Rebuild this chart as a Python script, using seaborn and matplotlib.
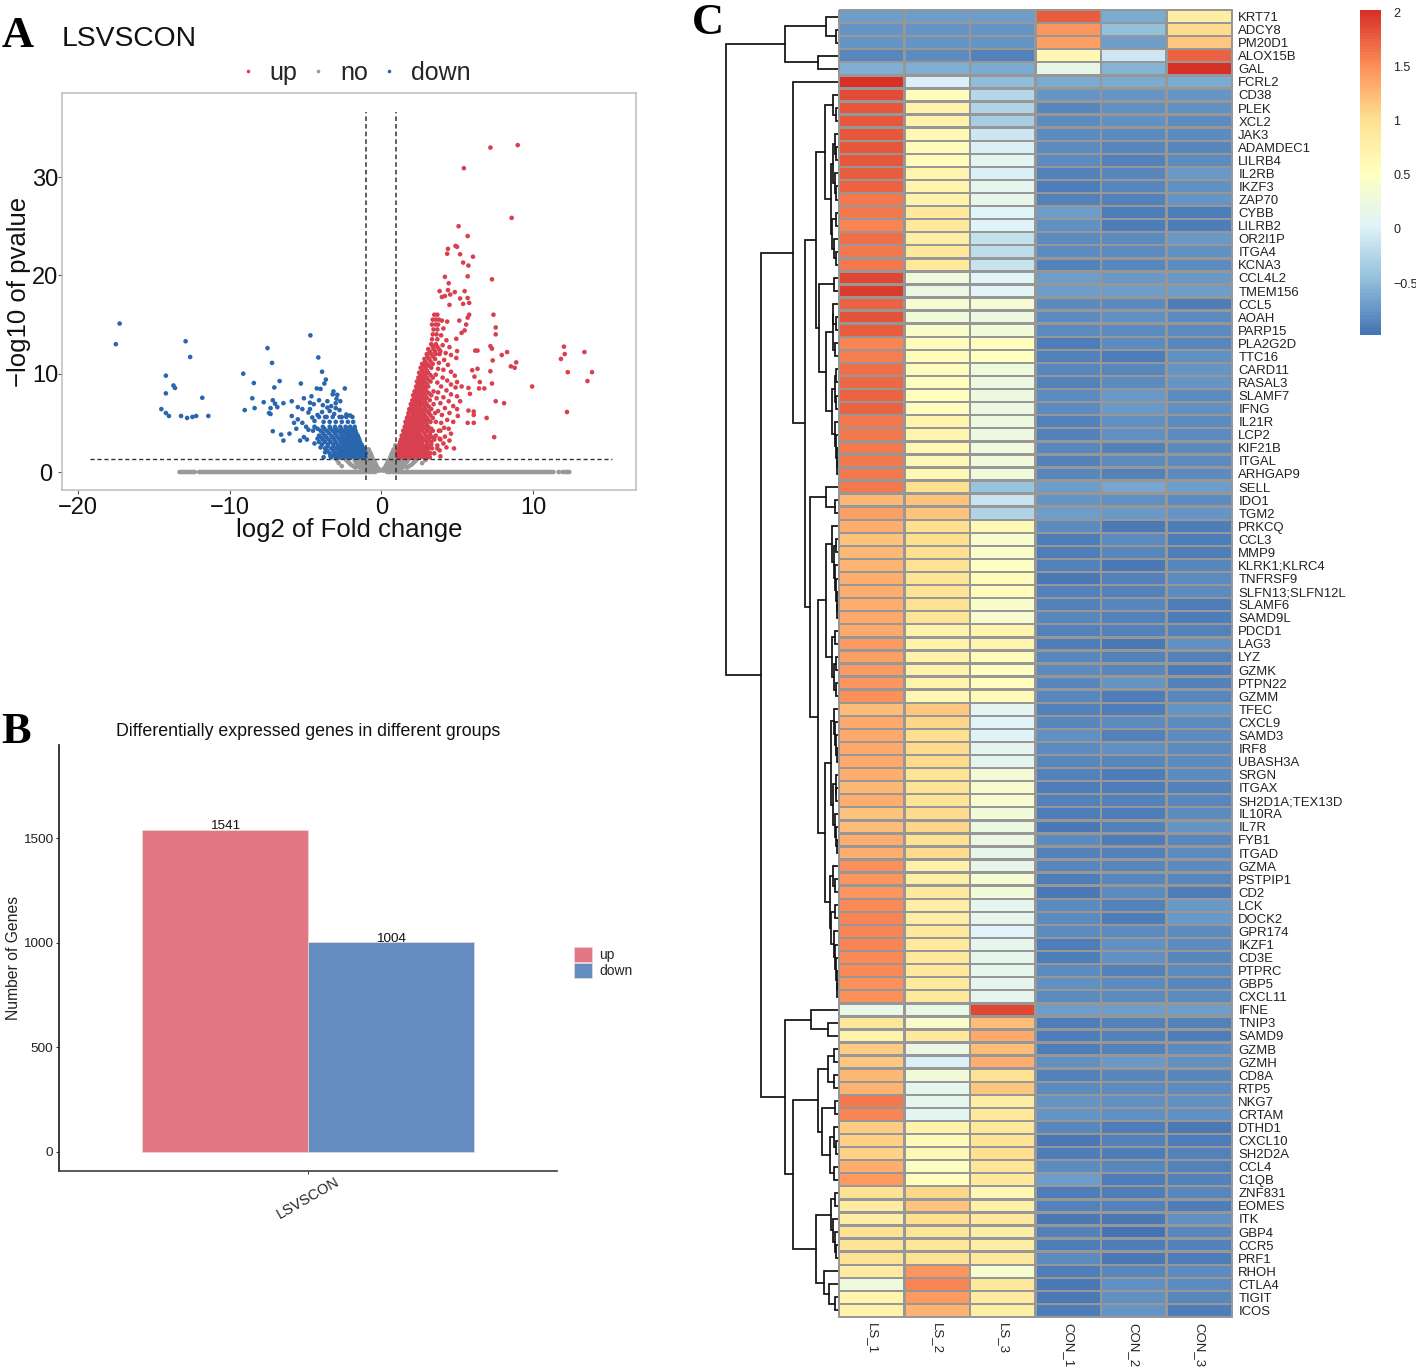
import numpy as np
import pandas as pd
import matplotlib
matplotlib.use("Agg")
import matplotlib.pyplot as plt
import seaborn as sns
from matplotlib.colors import LinearSegmentedColormap
from matplotlib.lines import Line2D

# Panel A: points (log2FC, -log10 p)
up_points = [
    (7.2,33.0),(9.0,33.25),(5.45,30.9),(8.6,25.85),(5.1,25.0),(5.7,24.0),(4.9,23.0),(5.0,22.9),(4.4,22.7),
    (4.35,22.2),(5.2,22.15),(6.05,21.9),(5.4,21.3),(5.75,21.0),(4.2,19.85),(5.7,19.9),(7.3,19.6),(4.45,19.2),
    (3.85,18.4),(4.4,18.5),(4.85,18.3),(5.5,18.4),(4.0,17.8),(4.2,17.9),(4.55,18.05),(5.2,17.65),(5.7,17.7),
    (4.5,17.0),(5.8,17.2),(5.4,17.1),(7.4,16.0),(5.8,16.0),(5.7,15.7),(5.15,15.4),(5.6,15.0),(7.55,14.7),
    (7.55,14.0),(5.5,14.4),(5.3,14.15),(4.95,13.55),(7.2,12.8),(7.3,12.55),(6.2,12.35),(6.35,12.35),(5.0,12.3),
    (8.3,12.2),(7.95,11.9),(7.35,11.35),(8.9,11.15),(8.55,10.75),(8.8,10.6),(12.05,12.75),(12.1,12.0),(11.85,11.5),
    (13.4,12.2),(12.3,10.15),(13.9,10.15),(13.6,9.25),(12.25,6.1),(9.95,8.7),(6.0,10.35),(6.35,10.5),(7.2,10.25),
    (6.15,9.7),(6.5,9.15),(7.3,9.0),(5.75,8.55),(6.45,8.5),(6.8,8.5),(5.85,7.95),(7.55,7.2),(8.1,7.0),(5.75,6.25),
    (6.1,6.15),(6.1,5.8),(6.95,5.5),(5.7,5.0),(6.1,5.0),(7.45,3.55),(4.8,2.4),
    (4.0,15.4),(4.35,15.3),(4.1,14.6),(3.95,13.9),(4.3,13.4),(4.05,12.9),(4.5,12.7),(3.9,12.3),(4.25,12.1),
    (4.6,11.9),(4.95,11.6),(4.15,11.4),(3.8,11.1),(4.4,10.9),(3.75,10.5),(4.1,10.4),(4.6,10.2),(3.6,9.9),(4.85,9.8),
    (4.05,9.6),(4.35,9.3),(3.7,9.1),(5.0,9.15),(4.6,8.9),(4.9,8.6),(3.95,8.7),(4.3,8.3),(3.75,8.1),(5.3,8.7),
    (4.6,7.9),(4.1,7.6),(3.65,7.5),(5.0,7.7),(4.45,7.2),(3.9,7.0),(5.2,7.2),(4.75,6.7),(4.2,6.5),(3.75,6.2),
    (5.0,6.4),(4.5,6.0),(4.0,5.8),(5.05,5.7),(4.35,5.3),(4.75,5.1),(3.95,5.0),(4.15,4.5),(3.9,4.2),(4.45,4.4),
    (4.6,3.9),(4.2,3.6),(3.85,3.4),(4.5,3.2),(4.1,2.9),(3.7,2.7),(4.3,2.5),(3.85,2.2),(3.5,1.9),(3.9,1.6),
]
up_core = [
    (1.5,[1.1,1.3,1.55,1.8,2.05,2.3,2.55,2.8,3.0,3.2]),
    (1.7,[1.2,1.4,1.65,1.9,2.15,2.4,2.65,2.9,3.1]),
    (1.9,[1.05,1.25,1.5,1.75,2.0,2.25,2.5,2.7,2.95,3.25]),
    (2.15,[1.1,1.3,1.55,1.8,2.05,2.3,2.55,2.8,3.05]),
    (2.4,[1.15,1.4,1.65,1.9,2.15,2.4,2.65,2.9,3.1,3.35,3.7]),
    (2.6,[1.3,1.55,1.8,2.05,2.3,2.55,2.8,3.1]),
    (2.8,[1.2,1.45,1.7,1.95,2.2,2.45,2.7,3.0,3.3]),
    (3.05,[1.25,1.45,1.7,1.95,2.2,2.45,2.7,3.0,3.3]),
    (3.3,[1.3,1.55,1.8,2.05,2.3,2.55,2.85,3.15,3.5,3.9]),
    (3.5,[1.4,1.65,1.9,2.15,2.4,2.7,3.05,3.4]),
    (3.7,[1.35,1.6,1.85,2.1,2.35,2.6,2.95,3.25,3.6]),
    (3.95,[1.5,1.75,2.0,2.25,2.5,2.85,3.2]),
    (4.2,[1.45,1.7,1.95,2.2,2.45,2.7,3.05,3.4,3.8]),
    (4.4,[1.6,1.85,2.1,2.35,2.6,2.95,3.3]),
    (4.6,[1.55,1.8,2.05,2.3,2.55,2.8,3.1]),
    (4.85,[1.65,1.9,2.15,2.4,2.7,3.0]),
    (5.1,[1.6,1.85,2.1,2.35,2.6,2.9,3.25,3.6]),
    (5.3,[1.75,2.0,2.25,2.5,2.8,3.1]),
    (5.5,[1.7,1.95,2.2,2.45,2.7,3.0,3.4]),
    (5.75,[1.8,2.1,2.35,2.6,2.9,3.25]),
    (6.0,[1.8,2.05,2.3,2.55,2.8,3.15,3.55]),
    (6.2,[1.9,2.15,2.45,2.7,3.05]),
    (6.4,[1.85,2.1,2.35,2.6,2.9,3.3]),
    (6.65,[2.0,2.25,2.55,2.85,3.15]),
    (6.9,[1.95,2.2,2.45,2.7,3.0,3.45]),
    (7.1,[2.1,2.35,2.6,2.9]),
    (7.3,[2.05,2.3,2.55,2.85,3.2]),
    (7.55,[2.2,2.45,2.7,3.0]),
    (7.8,[2.1,2.35,2.6,2.9,3.3]),
    (8.0,[2.25,2.5,2.8,3.15]),
    (8.2,[2.2,2.45,2.7,3.0,3.45]),
    (8.45,[2.35,2.6,2.9]),
    (8.7,[2.3,2.55,2.8,3.1]),
    (8.95,[2.45,2.7,3.0]),
    (9.2,[2.35,2.6,2.85,3.25]),
    (9.4,[2.5,2.8,3.1]),
    (9.6,[2.45,2.7,3.0,3.4]),
    (9.85,[2.6,2.9,3.25]),
    (10.1,[2.5,2.8,3.1]),
    (10.35,[2.7,3.0]),
    (10.6,[2.6,2.9,3.3]),
    (10.8,[2.8,3.15]),
    (11.0,[2.7,3.0,3.4]),
    (11.25,[2.9,3.25]),
    (11.5,[2.85,3.15,3.55]),
    (11.75,[3.05,3.4]),
    (12.0,[3.0,3.3,3.6,3.85]),
    (12.25,[3.2,3.55]),
    (12.5,[3.1,3.45,3.8]),
    (12.75,[3.4,3.7]),
    (13.0,[3.3,3.6]),
    (13.5,[3.35,3.7]),
    (14.0,[3.4,3.65]),
    (14.5,[3.45,3.7]),
    (15.0,[3.35,3.6,3.75]),
    (15.5,[3.4,3.6,3.8]),
    (16.0,[3.5,3.7]),
]
down_points = [
    (-17.25,15.1),(-17.5,13.0),(-12.9,13.3),(-12.6,11.7),(-14.2,9.8),(-14.2,8.0),(-13.7,8.8),(-13.6,8.55),
    (-14.5,6.4),(-14.2,6.0),(-14.0,5.7),(-13.2,5.7),(-12.8,5.5),(-12.45,5.6),(-12.2,5.7),(-11.8,7.55),(-11.4,5.7),
    (-9.1,10.0),(-8.4,9.05),(-8.5,7.5),(-9.0,6.3),(-8.35,6.5),(-7.5,12.6),(-7.2,11.1),(-4.67,13.9),(-4.15,11.65),
    (-3.9,10.2),(-6.7,9.25),(-7.05,8.6),(-5.3,9.0),(-3.65,9.4),(-3.75,9.0),(-4.25,8.5),(-4.0,8.45),(-2.4,8.5),
    (-3.15,8.2),(-2.9,7.85),(-7.75,7.1),(-7.15,7.3),(-7.0,6.95),(-7.3,6.5),(-6.85,6.6),(-7.4,6.0),(-7.3,5.9),
    (-6.45,7.0),(-5.9,7.2),(-5.5,6.6),(-5.2,6.4),(-5.1,7.5),(-4.6,7.7),(-4.7,7.05),(-4.7,6.4),(-4.8,6.05),
    (-5.9,5.7),(-5.5,5.35),(-5.2,5.0),(-5.75,5.0),(-7.15,4.15),(-6.6,3.8),(-6.45,3.2),(-6.05,3.9),(-5.35,3.2),
    (-5.1,3.55),(-4.8,4.3),(-4.95,4.6),(-3.2,7.9),(-2.7,7.2),(-3.0,7.0),(-3.3,6.7),(-3.0,6.5),(-3.4,6.2),(-2.75,6.3),
    (-3.9,6.1),(-4.2,5.8),(-3.1,5.9),(-2.3,5.85),(-2.05,5.75),(-2.6,5.6),(-3.7,5.6),(-4.4,5.2),(-4.5,4.2),(-4.2,3.4),
    (-4.4,2.9),(-4.0,2.5),(-3.7,2.0),(-3.35,1.6),(-3.8,1.5),(-4.9,3.3),(-5.6,4.4),(-4.55,5.55),(-3.55,7.2),(-2.95,7.45),
    (-3.55,6.55),(-4.45,6.9),(-4.1,7.3),(-3.85,6.8),
]
down_core = [
    (1.5,[-1.05,-1.25,-1.5,-1.75,-2.0,-2.25,-2.5,-2.75,-3.0,-3.3]),
    (1.7,[-1.1,-1.35,-1.6,-1.85,-2.1,-2.35,-2.6,-2.85,-3.15]),
    (1.9,[-1.02,-1.2,-1.45,-1.7,-1.95,-2.2,-2.45,-2.7,-3.0,-3.4]),
    (2.15,[-1.1,-1.3,-1.55,-1.8,-2.05,-2.3,-2.55,-2.8,-3.15,-3.55]),
    (2.4,[-1.15,-1.4,-1.65,-1.9,-2.15,-2.4,-2.65,-2.95,-3.3,-3.7]),
    (2.6,[-1.25,-1.5,-1.75,-2.0,-2.25,-2.5,-2.8,-3.15,-3.55]),
    (2.8,[-1.3,-1.55,-1.8,-2.05,-2.3,-2.55,-2.85,-3.15,-3.5,-3.9]),
    (3.05,[-1.4,-1.65,-1.9,-2.15,-2.4,-2.65,-3.0,-3.35,-3.7,-4.1]),
    (3.3,[-1.45,-1.7,-1.95,-2.2,-2.45,-2.75,-3.1,-3.45,-3.85]),
    (3.5,[-1.5,-1.75,-2.0,-2.25,-2.55,-2.85,-3.2,-3.6,-3.95]),
    (3.7,[-1.55,-1.8,-2.05,-2.3,-2.6,-2.95,-3.3,-3.7,-4.1]),
    (3.95,[-1.65,-1.9,-2.15,-2.4,-2.7,-3.05,-3.45,-3.85]),
    (4.2,[-1.7,-1.95,-2.2,-2.5,-2.85,-3.2,-3.6,-4.0]),
    (4.4,[-1.75,-2.0,-2.3,-2.65,-3.0,-3.35,-3.75,-4.2]),
    (4.6,[-1.75,-2.05,-2.35,-2.7,-3.05,-3.4,-3.85,-4.4]),
    (5.1,[-1.85,-2.2,-2.6,-3.0,-3.4,-3.8]),
    (5.6,[-1.9,-2.3,-2.75,-3.2,-3.6,-4.1]),
]
no_core = [
    (0.15,[0.1,0.2,0.35,0.55,0.8,1.1,-0.1,-0.2,-0.35,-0.55,-0.8,-1.1]),
    (0.3,[0.15,0.3,0.5,0.75,1.0,1.3,-0.15,-0.3,-0.5,-0.75,-1.0,-1.3]),
    (0.45,[0.25,0.4,0.6,0.85,1.1,1.4,1.7,-0.25,-0.4,-0.6,-0.85,-1.1,-1.4,-1.7]),
    (0.6,[0.3,0.5,0.7,0.95,1.2,1.5,1.85,-0.3,-0.5,-0.7,-0.95,-1.2,-1.5,-1.85,-2.6]),
    (0.75,[0.35,0.55,0.75,1.0,1.25,1.55,2.0,-0.35,-0.55,-0.75,-1.0,-1.25,-1.55,-2.0]),
    (0.9,[0.4,0.6,0.8,1.05,1.3,1.6,2.1,2.7,-0.4,-0.6,-0.8,-1.05,-1.3,-1.6,-2.1,-2.8]),
    (1.05,[0.45,0.65,0.85,1.1,1.35,1.7,2.2,-0.45,-0.65,-0.85,-1.1,-1.35,-1.7,-2.2]),
    (1.2,[0.5,0.7,0.9,1.15,1.4,1.75,2.3,2.9,-0.5,-0.7,-0.9,-1.15,-1.4,-1.75,-2.3,-2.9]),
    (1.5,[0.6,0.8,0.98,-0.6,-0.8,-0.98]),
    (1.7,[0.65,0.85,0.98,-0.65,-0.85,-0.98]),
    (1.9,[0.7,0.88,0.98,-0.7,-0.88,-0.98]),
    (2.1,[0.78,0.92,-0.78,-0.92]),
    (2.3,[0.82,0.95,-0.82,-0.95]),
    (2.7,[0.93]),
]
no_baseline = [
    -13.3,-13.05,-12.8,-12.55,-12.3,-12.0,-11.75,-11.5,-11.25,-11.0,-10.75,-10.5,-10.25,-10.0,-9.75,-9.5,-9.25,
    -9.0,-8.75,-8.5,-8.25,-8.0,-7.75,-7.5,-7.25,-7.0,-6.75,-6.5,-6.25,-6.0,-5.75,-5.5,-5.25,-5.0,-4.75,-4.5,
    -4.25,-4.0,-3.75,-3.5,-3.25,-3.0,-2.75,-2.5,-2.25,-2.0,-1.75,-1.5,-1.25,-1.0,-0.8,-0.6,-0.4,0.4,0.6,0.8,
    1.0,1.25,1.5,1.75,2.0,2.25,2.5,2.75,3.0,3.25,3.5,3.75,4.0,4.25,4.5,4.75,5.0,5.25,5.5,5.75,6.0,6.25,6.5,6.75,
    7.0,7.25,7.5,7.75,8.0,8.25,8.5,8.75,9.0,9.25,9.5,9.75,10.0,10.25,10.5,10.75,11.0,11.2,11.35,11.7,11.95,12.2,12.4,
    -13.18,-12.92,-12.67,-12.42,-11.88,-11.62,-11.37,-11.12,-10.88,-10.62,-10.37,-10.12,-9.88,-9.62,-9.37,-9.12,
    -8.88,-8.62,-8.37,-8.12,-7.88,-7.62,-7.37,-7.12,-6.88,-6.62,-6.37,-6.12,-5.88,-5.62,-5.37,-5.12,-4.88,-4.62,
    -4.37,-4.12,-3.88,-3.62,-3.37,-3.12,-2.88,-2.62,-2.37,-2.12,-1.88,-1.62,-1.37,-1.12,1.12,1.37,1.62,1.88,
    2.12,2.37,2.62,2.88,3.12,3.37,3.62,3.88,4.12,4.37,4.62,4.88,5.12,5.37,5.62,5.88,6.12,6.37,6.62,6.88,
    7.12,7.37,7.62,7.88,8.12,8.37,8.62,8.88,9.12,9.37,9.62,9.88,10.12,10.37,10.62,10.88,11.1,12.08,12.3,
]

# Panel B
groups = ["LSVSCON", "LSVSCON"]
directions = ["up", "down"]
gene_counts = [1541, 1004]

# Panel C
genes = ["KRT71","ADCY8","PM20D1","ALOX15B","GAL","FCRL2","CD38","PLEK","XCL2","JAK3","ADAMDEC1","LILRB4","IL2RB",
         "IKZF3","ZAP70","CYBB","LILRB2","OR2I1P","ITGA4","KCNA3","CCL4L2","TMEM156","CCL5","AOAH","PARP15","PLA2G2D",
         "TTC16","CARD11","RASAL3","SLAMF7","IFNG","IL21R","LCP2","KIF21B","ITGAL","ARHGAP9","SELL","IDO1","TGM2",
         "PRKCQ","CCL3","MMP9","KLRK1;KLRC4","TNFRSF9","SLFN13;SLFN12L","SLAMF6","SAMD9L","PDCD1","LAG3","LYZ","GZMK",
         "PTPN22","GZMM","TFEC","CXCL9","SAMD3","IRF8","UBASH3A","SRGN","ITGAX","SH2D1A;TEX13D","IL10RA","IL7R","FYB1",
         "ITGAD","GZMA","PSTPIP1","CD2","LCK","DOCK2","GPR174","IKZF1","CD3E","PTPRC","GBP5","CXCL11","IFNE","TNIP3",
         "SAMD9","GZMB","GZMH","CD8A","RTP5","NKG7","CRTAM","DTHD1","CXCL10","SH2D2A","CCL4","C1QB","ZNF831","EOMES",
         "ITK","GBP4","CCR5","PRF1","RHOH","CTLA4","TIGIT","ICOS"]
ls_1 = [-0.68,-0.75,-0.75,-0.85,-0.58,2.0,1.85,1.78,1.8,1.8,1.8,1.78,1.75,1.72,1.62,1.62,1.55,1.68,1.62,1.62,
        1.88,1.95,1.72,1.82,1.75,1.55,1.58,1.68,1.7,1.72,1.72,1.62,1.6,1.6,1.6,1.6,1.6,1.25,1.4,1.3,
        1.2,1.25,1.28,1.3,1.32,1.32,1.35,1.35,1.42,1.4,1.42,1.45,1.48,1.22,1.33,1.35,1.35,1.33,1.32,1.25,
        1.3,1.2,1.22,1.3,1.3,1.48,1.45,1.45,1.52,1.55,1.55,1.55,1.52,1.52,1.5,1.5,0.18,0.92,0.72,1.12,
        1.15,1.25,1.28,1.62,1.55,1.12,1.1,1.1,1.32,1.42,0.98,0.82,0.8,0.98,0.95,0.98,0.82,0.25,0.68,0.72]
ls_2 = [-0.68,-0.75,-0.75,-0.83,-0.58,-0.02,0.55,0.72,0.72,0.62,0.55,0.55,0.68,0.68,0.72,0.85,0.9,0.78,0.88,0.88,
        0.25,0.2,0.35,0.3,0.42,0.55,0.55,0.55,0.52,0.52,0.52,0.7,0.68,0.65,0.62,0.62,1.0,1.2,1.18,1.0,
        1.0,1.0,0.98,0.95,0.95,0.98,0.95,0.72,0.72,0.72,0.72,0.72,0.65,1.15,1.08,1.0,1.05,1.05,0.95,0.95,
        0.95,1.05,1.08,0.98,1.05,0.75,0.78,0.85,0.8,0.8,0.9,0.85,0.88,0.85,0.85,0.88,0.18,0.42,0.85,0.2,
        -0.02,0.28,0.1,0.12,0.08,0.72,0.6,0.62,0.48,0.52,1.08,1.18,1.02,0.92,0.92,0.98,1.45,1.55,1.42,1.28]
ls_3 = [-0.68,-0.75,-0.75,-0.88,-0.6,-0.5,-0.25,-0.27,-0.33,-0.1,0,0.08,0,0.12,0.15,0.02,0.02,-0.15,-0.18,-0.12,
        0.05,0.05,0.35,0.22,0.28,0.52,0.5,0.25,0.22,0.22,0.22,0.22,0.22,0.25,0.25,0.25,-0.42,-0.12,-0.28,0.62,
        0.38,0.45,0.48,0.55,0.55,0.42,0.38,0.7,0.7,0.55,0.5,0.52,0.58,0.08,0.02,0.03,0.08,0.08,0.32,0.38,
        0.38,0.3,0.22,0.2,0.15,0.15,0.35,0.28,0.1,0.12,0.02,0.12,0.1,0.12,0.12,0.12,1.88,1.22,1.35,1.22,
        1.32,0.98,1.15,0.8,0.88,0.88,0.95,1.0,0.92,0.85,0.62,0.75,0.85,0.78,0.8,0.9,0.38,0.9,0.82,0.78]
con_1 = [1.75,1.45,1.4,0.65,0.15,-0.6,-0.76,-0.85,-0.8,-0.82,-0.82,-0.8,-0.88,-0.89,-0.87,-0.71,-0.79,-0.82,-0.82,-0.87,
         -0.71,-0.71,-0.82,-0.82,-0.82,-0.89,-0.87,-0.85,-0.87,-0.82,-0.82,-0.88,-0.87,-0.85,-0.88,-0.85,-0.71,-0.76,-0.71,-0.82,
         -0.91,-0.91,-0.88,-0.93,-0.88,-0.87,-0.85,-0.88,-0.89,-0.85,-0.82,-0.85,-0.85,-0.88,-0.85,-0.79,-0.82,-0.85,-0.87,-0.89,
         -0.87,-0.91,-0.93,-0.82,-0.87,-0.85,-0.91,-0.93,-0.82,-0.8,-0.82,-0.91,-0.89,-0.8,-0.79,-0.82,-0.68,-0.89,-0.91,-0.91,
         -0.79,-0.88,-0.82,-0.76,-0.76,-0.85,-0.93,-0.91,-0.82,-0.68,-0.89,-0.88,-0.93,-0.87,-0.89,-0.82,-0.91,-0.93,-0.93,-0.91]
con_2 = [-0.6,-0.45,-0.68,-0.1,-0.55,-0.6,-0.76,-0.79,-0.79,-0.82,-0.85,-0.87,-0.85,-0.85,-0.88,-0.89,-0.89,-0.82,-0.8,-0.85,
         -0.73,-0.71,-0.82,-0.79,-0.82,-0.82,-0.91,-0.85,-0.82,-0.73,-0.73,-0.79,-0.79,-0.88,-0.82,-0.88,-0.64,-0.79,-0.73,-0.93,
         -0.82,-0.85,-0.93,-0.87,-0.87,-0.85,-0.87,-0.87,-0.93,-0.87,-0.85,-0.76,-0.89,-0.91,-0.82,-0.87,-0.79,-0.85,-0.89,-0.89,
         -0.88,-0.89,-0.87,-0.89,-0.87,-0.85,-0.85,-0.82,-0.88,-0.91,-0.82,-0.79,-0.79,-0.87,-0.82,-0.8,-0.68,-0.88,-0.87,-0.87,
         -0.73,-0.85,-0.82,-0.79,-0.79,-0.91,-0.88,-0.91,-0.85,-0.91,-0.89,-0.87,-0.93,-0.97,-0.91,-0.95,-0.85,-0.79,-0.79,-0.76]
con_3 = [0.8,1.05,1.15,1.72,2.0,-0.6,-0.76,-0.79,-0.8,-0.82,-0.85,-0.82,-0.73,-0.79,-0.76,-0.91,-0.91,-0.73,-0.79,-0.82,
         -0.73,-0.68,-0.89,-0.8,-0.82,-0.85,-0.79,-0.76,-0.76,-0.82,-0.79,-0.82,-0.82,-0.82,-0.82,-0.82,-0.68,-0.82,-0.76,-0.91,
         -0.91,-0.89,-0.85,-0.82,-0.82,-0.89,-0.89,-0.88,-0.79,-0.88,-0.89,-0.87,-0.85,-0.76,-0.82,-0.82,-0.82,-0.8,-0.82,-0.87,
         -0.85,-0.82,-0.76,-0.85,-0.82,-0.82,-0.85,-0.89,-0.73,-0.73,-0.82,-0.82,-0.85,-0.82,-0.85,-0.82,-0.68,-0.87,-0.89,-0.82,
         -0.79,-0.85,-0.8,-0.79,-0.79,-0.93,-0.89,-0.88,-0.87,-0.87,-0.85,-0.89,-0.79,-0.85,-0.88,-0.91,-0.82,-0.82,-0.85,-0.91]

# Row dendrogram as nested [height, upper, lower]; L is a leaf
L = None
a1 = [13, [5, L, [2, L, L]],
      [7.5, [5, [3, L, [2, L, L]], [3.5, L, [2, L, L]]], [6, [2.5, L, L], [4, L, [2, L, L]]]]]
a2 = [19, [4, L, L],
      [12, [5.5, [5, L, [2.5, L, L]], [3.5, L, L]],
       [6, [3.5, [2.5, L, L], [2.5, L, L]], [3, L, [2.2, L, [1.8, L, [1.2, L, L]]]]]]]
b1 = [12, L, [3, L, L]]
b2 = [12, [6, L, [4, [2.5, L, L], [3, L, [2, L, [1.5, L, [1.2, L, L]]]]]],
      [6.5, [3.5, L, L], [4, [2.5, L, L], [2.5, L, L]]]]
c1 = [7, [4, L, [3, L, [2.2, L, [1.5, L, L]]]], [5, [2.5, L, [2, L, L]], [3, L, [2, L, [1.5, L, L]]]]]
c2 = [8, [5, L, [3, L, L]], [7, [3.5, L, L], [4.5, L, [3, L, [2.2, L, [1.5, L, [1, L, L]]]]]]]
main_cluster = [45, L, [33, [22, a1, a2], [28, b1, [20, b2, [13, c1, c2]]]]]
d1 = [27, L, [10, L, L]]
d2 = [10, [4, L, L], [4, L, L]]
d3 = [16, [3.5, L, L], [8, [4, L, [2.5, L, L]], [4, L, L]]]
d5 = [7, [3, L, L], [5, L, [3.5, L, [2, L, L]]]]
d6 = [14, L, [9, L, [3, L, L]]]
low_cluster = [53, d1, [45, [20, d2, d3], [22, d5, d6]]]
top_cluster = [54, [12, L, [2.5, L, L]], [20, L, L]]
row_tree = [113, top_cluster, [78, main_cluster, low_cluster]]

W, H = 1416, 1368
sns.set_theme(style="white")
plt.rcParams["font.family"] = ["Liberation Sans", "DejaVu Sans"]
plt.rcParams["axes.unicode_minus"] = True


def px_axes(fig, left, top, right, bottom):
    return fig.add_axes([left / W, 1 - bottom / H, (right - left) / W, (bottom - top) / H])


fig = plt.figure(figsize=(W / 100, H / 100), dpi=100, facecolor="white")

# ---- A: volcano
rows = [("no", x, 0.0) for x in no_baseline]
rows += [("no", x, y) for y, xs in no_core for x in xs]
rows += [("down", x, y) for y, xs in down_core for x in xs]
rows += [("down", x, y) for x, y in down_points]
rows += [("up", x, y) for y, xs in up_core for x in xs]
rows += [("up", x, y) for x, y in up_points]
volcano = pd.DataFrame(rows, columns=["group", "log2fc", "logp"])
volcano_colors = {"up": "#D8404F", "no": "#999999", "down": "#2A66AD"}

ax_a = px_axes(fig, 62, 93, 636, 490)
sns.scatterplot(data=volcano, x="log2fc", y="logp", hue="group", palette=volcano_colors,
                s=11, linewidth=0, legend=False, ax=ax_a)
ax_a.set_xlim(-21.05, 16.8)
ax_a.set_ylim(-1.83, 38.55)
ax_a.vlines([-1, 1], -0.8, 36.6, colors="#333333", linestyles=(0, (3, 2)), linewidth=1.1)
ax_a.hlines(1.3, -19.2, 15.2, colors="#333333", linestyles=(0, (3, 2)), linewidth=1.0)
ax_a.set_xticks([-20, -10, 0, 10])
ax_a.set_yticks([0, 10, 20, 30])
ax_a.tick_params(labelsize=17, length=3, width=0.8, color="#555555", pad=2, labelcolor="#111111", bottom=True, left=True)
ax_a.tick_params(axis="y", pad=9)
plt.setp(ax_a.get_yticklabels(), ha="center")
ax_a.set_xlabel("log2 of Fold change", fontsize=18.5, labelpad=-1, color="#111111")
ax_a.set_ylabel("\u2212log10 of pvalue", fontsize=18.5, labelpad=1, color="#111111")
for spine in ax_a.spines.values():
    spine.set_color("#BDBDBD")
    spine.set_linewidth(1.1)
handles = [Line2D([], [], marker="o", linestyle="", markersize=2.6, markeredgewidth=0, color=volcano_colors[k])
           for k in ["up", "no", "down"]]
fig.legend(handles, ["up", "no", "down"], ncol=3, frameon=False, fontsize=18, loc="center",
           bbox_to_anchor=(353 / W, 1 - 73 / H), handlelength=1.0, handletextpad=0.38, columnspacing=0.34)
fig.text(62 / W, 1 - 39 / H, "LSVSCON", fontsize=20.3, va="center", ha="left", color="#111111")

# ---- B: bars
bars = pd.DataFrame({"group": groups, "direction": directions, "count": gene_counts})
ax_b = px_axes(fig, 59, 745, 557, 1171)
sns.barplot(data=bars, x="group", y="count", hue="direction", palette={"up": "#E27784", "down": "#648CC0"},
            width=0.8, saturation=1, edgecolor="#F3D6DA", linewidth=0.5, ax=ax_b)
ax_b.set_xlim(-0.6, 0.6)
ax_b.set_ylim(-91, 1945)
ax_b.set_yticks([0, 500, 1000, 1500])
ax_b.set_xlabel("")
ax_b.set_ylabel("Number of Genes", fontsize=11.3, labelpad=1, color="#222222")
ax_b.tick_params(axis="y", labelsize=9.7, length=2.5, width=0.7, pad=2, left=True, labelcolor="#222222")
ax_b.tick_params(axis="x", length=2.5, width=0.7, pad=0, bottom=True)
plt.setp(ax_b.get_xticklabels(), rotation=30, ha="center", fontsize=10.5, color="#222222")
ax_b.spines["top"].set_visible(False)
ax_b.spines["right"].set_visible(False)
ax_b.spines["left"].set_color("#222222")
ax_b.spines["bottom"].set_color("#444444")
for container in ax_b.containers:
    ax_b.bar_label(container, fontsize=9.7, padding=-2, color="#111111")
ax_b.legend(title=None, frameon=False, fontsize=10, loc="center left", bbox_to_anchor=(1.035, 0.49),
            handlelength=1.25, handleheight=1.3, labelspacing=0.05, handletextpad=0.55, borderpad=0, borderaxespad=0)
fig.text(308 / W, 1 - 731 / H, "Differentially expressed genes in different groups", fontsize=12.8,
         ha="center", va="center", color="#111111")

# ---- C: heatmap with row dendrogram
matrix = pd.DataFrame({"LS_1": ls_1, "LS_2": ls_2, "LS_3": ls_3, "CON_1": con_1, "CON_2": con_2, "CON_3": con_3},
                      index=genes)
rdylbu = LinearSegmentedColormap.from_list(
    "rdylbu", ["#4575B4", "#91BFDB", "#E0F3F8", "#FFFFBF", "#FEE090", "#FC8D59", "#D73027"], N=100)

ax_c = px_axes(fig, 839, 10, 1232, 1317)
cax = px_axes(fig, 1360, 10, 1381, 335)
sns.heatmap(matrix, cmap=rdylbu, vmin=-0.98, vmax=2.02, linewidths=1.0, linecolor="#979797", ax=ax_c, cbar_ax=cax,
            yticklabels=True)
mesh = ax_c.collections[0]
mesh.set_clip_on(False)
mesh.set_snap(False)
mesh.set_antialiased(True)
ax_c.yaxis.tick_right()
ax_c.tick_params(axis="y", length=0, pad=4.5, labelsize=9.45, labelcolor="#222222")
ax_c.tick_params(axis="x", length=0, pad=4, labelsize=9.5, labelcolor="#222222")
plt.setp(ax_c.get_yticklabels(), rotation=0)
plt.setp(ax_c.get_xticklabels(), rotation=270)

cbar = mesh.colorbar
cbar.set_ticks([-0.5, 0, 0.5, 1, 1.5, 2])
cbar.set_ticklabels(["\u22120.5", "0", "0.5", "1", "1.5", "2"])
cbar.ax.tick_params(length=0, pad=9, labelsize=9, labelcolor="#222222")
cbar.outline.set_visible(False)

ax_d = px_axes(fig, 720, 10, 838.5, 1317)
ax_d.set_xlim(118.5, 0)
ax_d.set_ylim(100, 0)
ax_d.axis("off")
leaf_pos = [0]


def draw_tree(node):
    # returns the row position of a node, leaves go top to bottom
    if node is None:
        leaf_pos[0] += 1
        return leaf_pos[0] - 0.5, 0
    height, upper, lower = node
    y1, h1 = draw_tree(upper)
    y2, h2 = draw_tree(lower)
    ax_d.plot([h1, height, height, h2], [y1, y1, y2, y2], color="#111111", lw=1.25, solid_joinstyle="miter")
    return (y1 + y2) / 2, height


draw_tree(row_tree)

# panel letters
for letter, x, y in [("A", 2, 36), ("B", 1, 732), ("C", 692, 23)]:
    fig.text(x / W, 1 - y / H, letter, fontsize=32, fontweight="bold", family="Liberation Serif",
             ha="left", va="center", color="black")

fig.savefig("out.png", dpi=100)
